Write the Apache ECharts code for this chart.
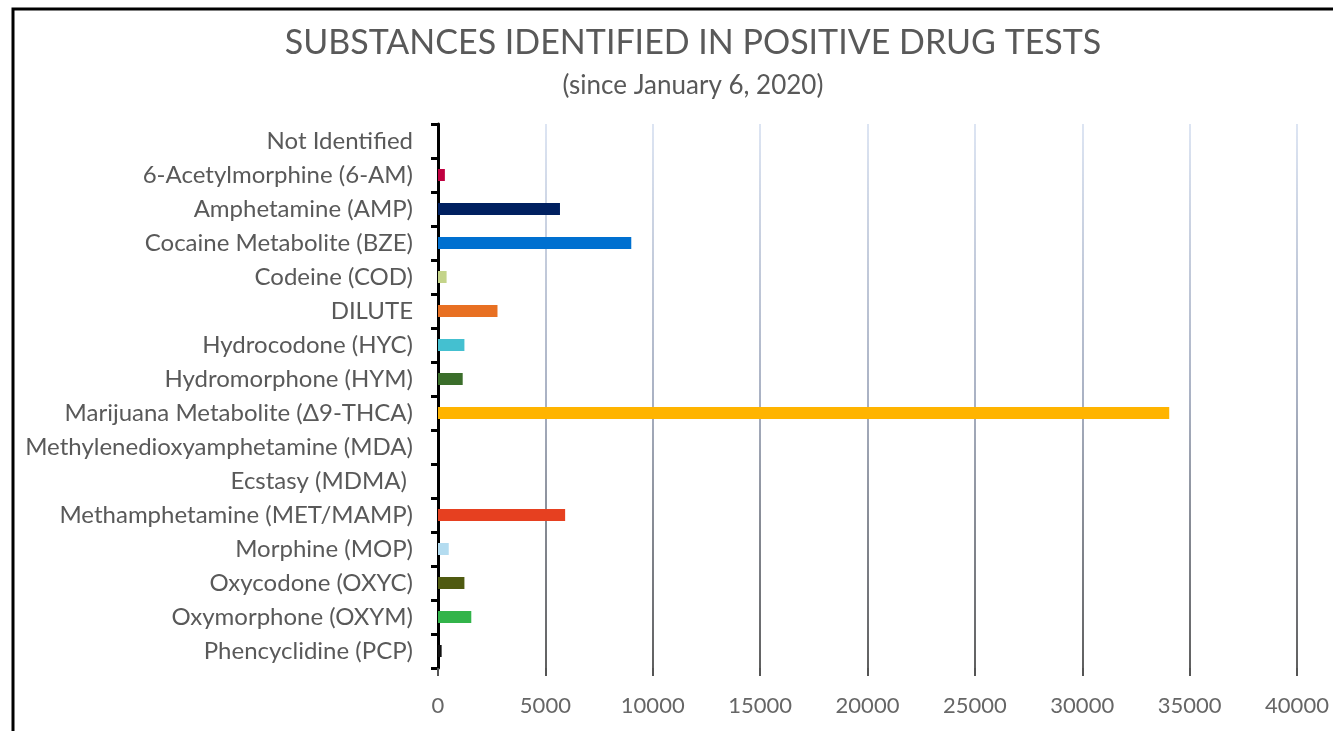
<!DOCTYPE html>
<html>
<head>
<meta charset="utf-8">
<script src="https://cdn.jsdelivr.net/npm/echarts@6/dist/echarts.min.js"></script>
<style>
html,body{margin:0;padding:0;background:#fff;}
#chart{width:1333px;height:731px;}
</style>
</head>
<body>
<div id="chart"></div>
<script>
const categories = [
  'Not Identified',
  '6-Acetylmorphine (6-AM)',
  'Amphetamine (AMP)',
  'Cocaine Metabolite (BZE)',
  'Codeine (COD)',
  'DILUTE',
  'Hydrocodone (HYC)',
  'Hydromorphone (HYM)',
  'Marijuana Metabolite (\u03949-THCA)',
  'Methylenedioxyamphetamine (MDA)',
  'Ecstasy (MDMA) ',
  'Methamphetamine (MET/MAMP)',
  'Morphine (MOP)',
  'Oxycodone (OXYC)',
  'Oxymorphone (OXYM)',
  'Phencyclidine (PCP)'
];
const values = [0, 320, 5680, 9000, 400, 2770, 1230, 1150, 34050, 0, 0, 5920, 500, 1230, 1550, 170];
const barColors = ['#999999', '#c00040', '#002060', '#0070d0', '#c4d48a', '#e87022', '#44c0d0', '#3b6e2b', '#ffb400', '#888888', '#888888', '#e64020', '#b4dcf0', '#4f5a10', '#32b44a', '#111111'];
const xTicks = [0, 5000, 10000, 15000, 20000, 25000, 30000, 35000, 40000];

const chart = echarts.init(document.getElementById('chart'));
const font = 'Lato, "Open Sans", sans-serif';
chart.setOption({
  backgroundColor: '#ffffff',
  animation: false,
  title: [
    {
      text: 'SUBSTANCES IDENTIFIED IN POSITIVE DRUG TESTS',
      left: 688, top: 21, textAlign: 'center',
      textStyle: {fontFamily: font, fontSize: 34, fontWeight: 'normal', color: '#595959'}
    },
    {
      text: '(since January 6, 2020)',
      left: 688, top: 68, textAlign: 'center',
      textStyle: {fontFamily: font, fontSize: 26, fontWeight: 'normal', color: '#595959'}
    }
  ],
  graphic: [{
    type: 'rect', shape: {x: 13, y: 9, width: 1340, height: 740},
    style: {fill: 'none', stroke: '#000', lineWidth: 3}, silent: true, z: 100
  }],
  grid: {left: 438, right: 36, top: 124, bottom: 63, containLabel: false},
  xAxis: {
    type: 'value', min: xTicks[0], max: xTicks[xTicks.length - 1], interval: xTicks[1] - xTicks[0],
    axisLine: {show: false},
    axisTick: {show: true, length: 8, lineStyle: {color: '#555', width: 2}},
    splitLine: {show: true, lineStyle: {width: 2, color: {
      type: 'linear', x: 0, y: 124, x2: 0, y2: 668, global: true,
      colorStops: [{offset: 0, color: '#dde5f3'}, {offset: 0.5, color: '#aab2c4'}, {offset: 1, color: '#606060'}]
    }}},
    axisLabel: {fontFamily: font, fontSize: 22, color: '#666', margin: 27, formatter: v => String(v)}
  },
  yAxis: {
    type: 'category', data: categories, inverse: true,
    axisLine: {show: true, lineStyle: {color: '#000', width: 3}},
    axisTick: {show: true, length: 7, lineStyle: {color: '#000', width: 3}},
    axisLabel: {fontFamily: font, fontSize: 24, color: '#595959', margin: 25}
  },
  series: [{
    type: 'bar',
    barWidth: 12,
    data: values.map((v, i) => ({value: v, itemStyle: {color: barColors[i]}}))
  }]
});
</script>
</body>
</html>
